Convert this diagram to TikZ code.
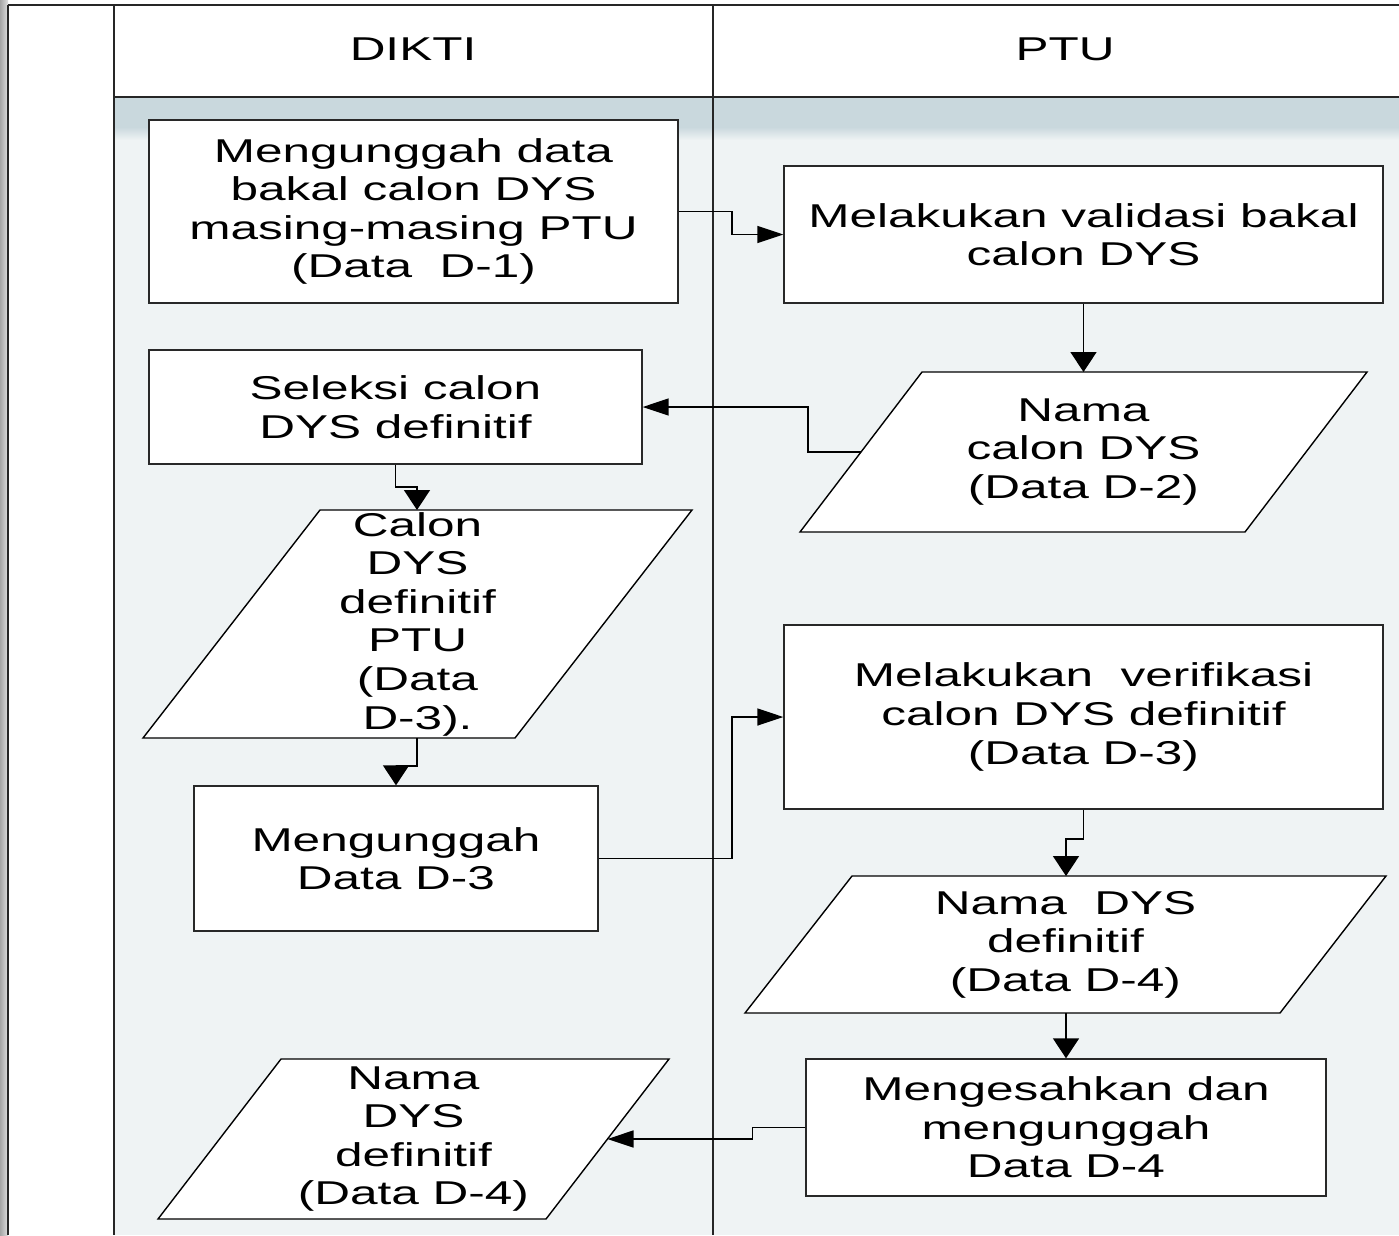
\documentclass[tikz,border=0pt]{standalone}
\usepackage{fontspec}
\setmainfont{Liberation Sans}[FakeStretch=1.5]
\usetikzlibrary{arrows.meta}
\definecolor{band}{RGB}{201,216,221}
\definecolor{lanebg}{RGB}{239,243,244}
\definecolor{edge}{RGB}{40,40,40}
\begin{document}
\begin{tikzpicture}[x=1pt,y=-1pt,
  box/.style={draw=edge, line width=1.4pt, fill=white, inner sep=0pt, align=center,
    font=\fontsize{33}{38.6}\selectfont},
  para/.style={draw=black, line width=1.4pt, fill=white},
  txt/.style={font=\fontsize{33}{38.6}\selectfont, align=center, inner sep=0pt},
  lane/.style={draw=black!85, line width=1.8pt},
  hconn/.style={draw=black, line width=1.6pt, -{Triangle[length=26pt,width=17pt]}},
  vconn/.style={draw=black, line width=1.6pt, -{Triangle[length=20pt,width=26pt]}}]

\useasboundingbox (0,0) rectangle (1399,1235);
\fill[white] (0,0) rectangle (1399,1235);
\shade[left color=black!35, right color=black!12] (0,0) rectangle (8,1235);
\fill[lanebg] (114,97) rectangle (1399,1235);
\fill[band] (114,97) rectangle (1399,127);
\shade[top color=band, bottom color=lanebg] (114,127) rectangle (1399,140);

% lane lines
\draw[lane] (8,5) -- (1399,5);
\draw[lane] (8,5) -- (8,1235);
\draw[lane] (114,5) -- (114,1235);
\draw[lane] (713,5) -- (713,1235);
\draw[lane] (114,97) -- (1399,97);

\node[txt] (hdikti) at (413,49) {DIKTI};
\node[txt] (hptu) at (1065,49) {PTU};

% rectangles
\node[box, minimum width=529pt, minimum height=183pt] (A) at (413.5,211.5)
  {Mengunggah data\\bakal calon DYS\\masing-masing PTU\\(Data\ \ D-1)};
\node[box, minimum width=599pt, minimum height=137pt] (B) at (1083.5,234.5)
  {Melakukan validasi bakal\\calon DYS};
\node[box, minimum width=493pt, minimum height=114pt] (D) at (395.5,407)
  {Seleksi calon\\DYS definitif};
\node[box, minimum width=404pt, minimum height=145pt] (F) at (396,858.5)
  {Mengunggah\\Data D-3};
\node[box, minimum width=599pt, minimum height=184pt] (G) at (1083.5,717)
  {Melakukan\ \ verifikasi\\calon DYS definitif\\(Data D-3)};
\node[box, minimum width=520pt, minimum height=137pt] (I) at (1066,1127.5)
  {Mengesahkan dan\\mengunggah\\Data D-4};

% parallelograms
\draw[para] (922,372) -- (1367,372) -- (1245,532) -- (800,532) -- cycle;
\coordinate (Ct) at (1083.5,372);
\coordinate (Cl) at (861,452);
\node[txt] (C) at (1083.5,452) {Nama\\calon DYS\\(Data D-2)};

\draw[para] (320,510) -- (692,510) -- (515,738) -- (143,738) -- cycle;
\coordinate (Et) at (417,510);
\coordinate (Eb) at (417,738);
\node[txt] (E) at (417.5,624) {Calon\\DYS\\definitif\\PTU\\(Data\\D-3).};

\draw[para] (852,876) -- (1386,876) -- (1280,1013) -- (745,1013) -- cycle;
\coordinate (Ht) at (1066,876);
\coordinate (Hb) at (1066,1013);
\node[txt] (H) at (1065.5,944.5) {Nama\ \ DYS\\definitif\\(Data D-4)};

\draw[para] (281,1059) -- (669,1059) -- (546,1219) -- (158,1219) -- cycle;
\coordinate (Jr) at (607.5,1139);
\node[txt] (J) at (413.5,1139) {Nama\\DYS\\definitif\\(Data D-4)};

% connectors
\draw[hconn] (A.east) -- ++(53,0) |- (B.west);
\draw[vconn] (B.south) -- (Ct);
\draw[hconn] (Cl) -- ++(-53,0) |- (D.east);
\draw[vconn] (D.south) -- ++(0,22) -| (Et);
\draw[vconn] (Eb) -- ++(0,28) -| (F.north);
\draw[hconn] (F.east) -- ++(133,0) |- (G.west);
\draw[vconn] (G.south) -- ++(0,29) -| (Ht);
\draw[vconn] (Hb) -- (I.north);
\draw[hconn] (I.west) -- ++(-53,0) |- (Jr);
\end{tikzpicture}
\end{document}
